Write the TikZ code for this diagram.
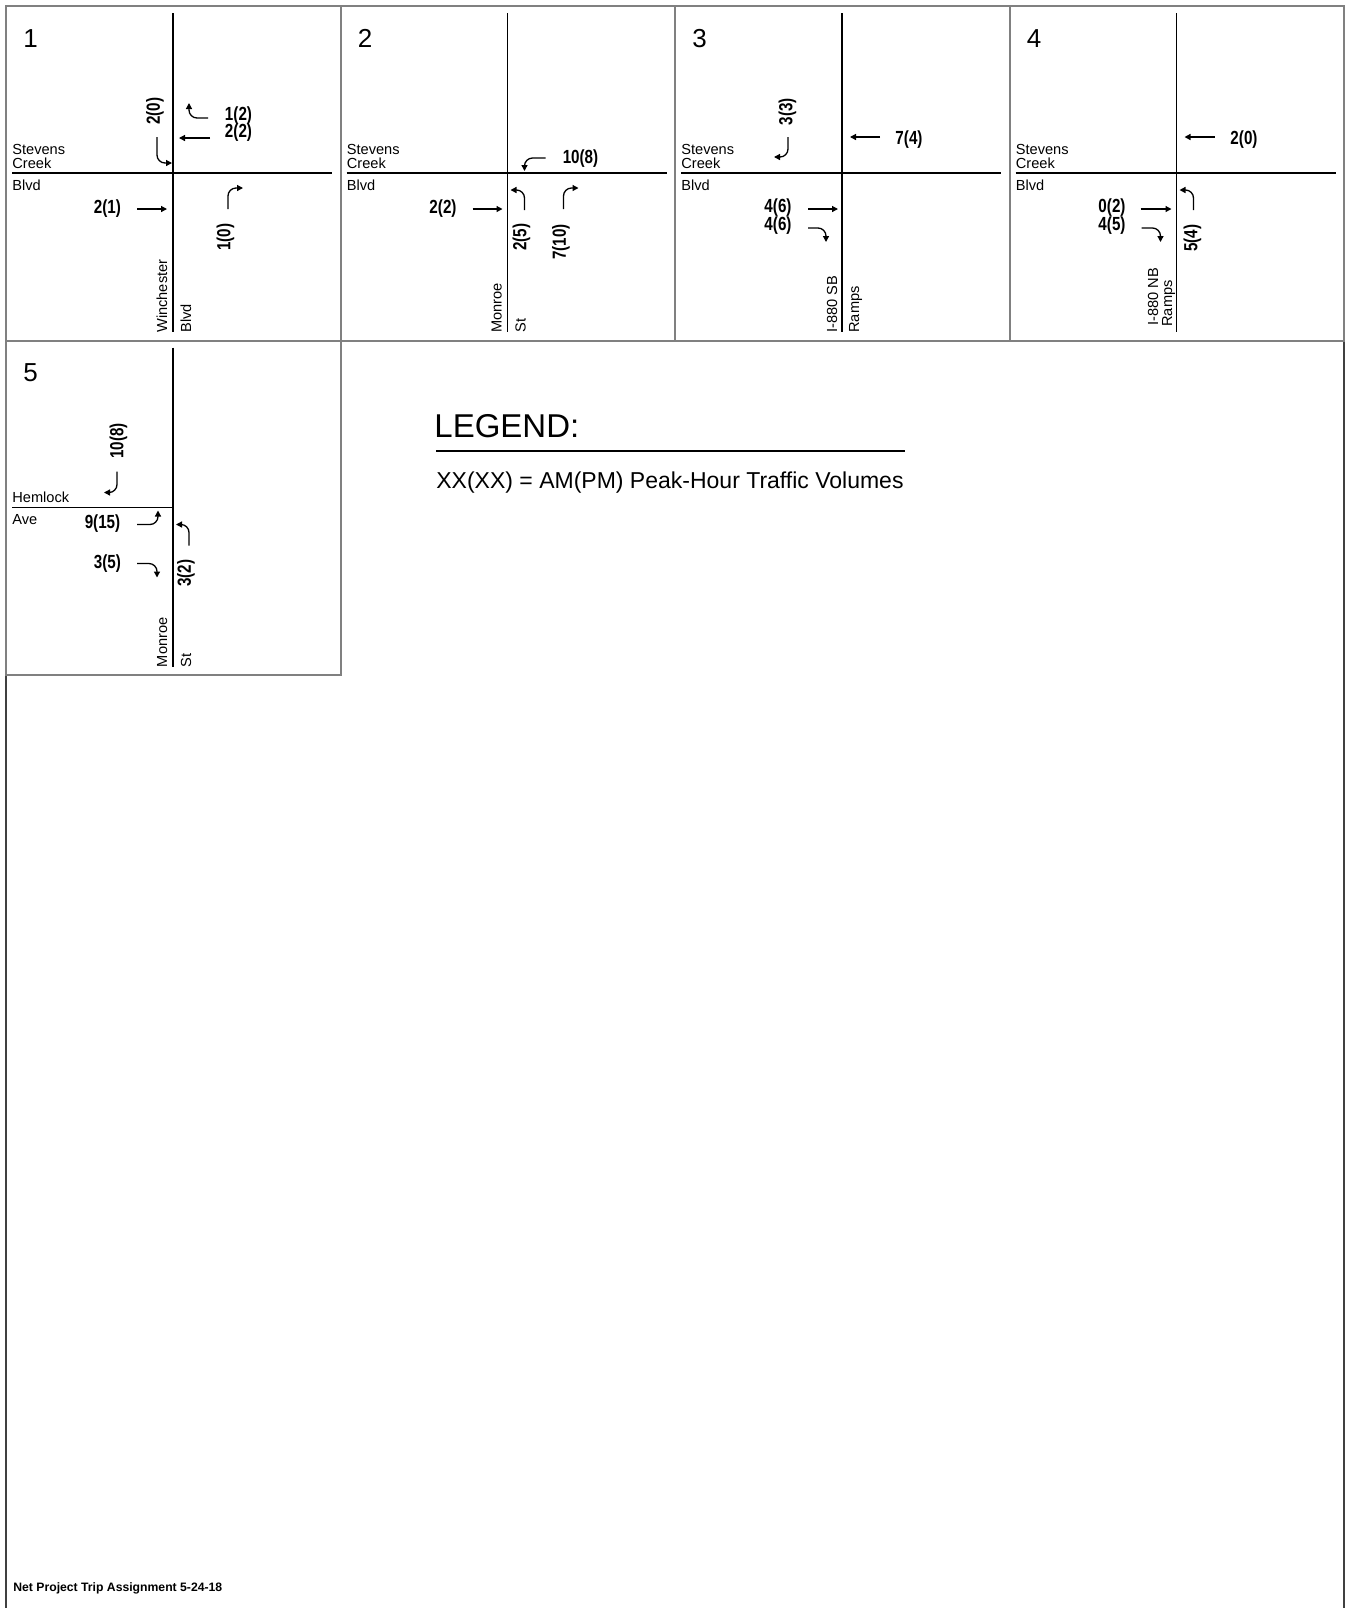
\documentclass[tikz,border=0pt]{standalone}
\usepackage{fontspec}
\setmainfont{Liberation Sans}
\newfontfamily\volfont[FakeStretch=0.8]{Liberation Sans Bold}
\usepackage{tikz}
\usetikzlibrary{arrows.meta}
\definecolor{framegray}{HTML}{808080}
\definecolor{edgegray}{HTML}{404040}

\begin{document}
\begin{tikzpicture}[
  x=0.5pt,y=-0.5pt,
  panel/.style={draw=framegray,line width=1pt},
  road/.style={line width=0.65pt},
  mov/.style={line width=0.65pt,-{Triangle[length=3pt,width=3pt]},rounded corners=4pt},
  pnum/.style={font=\fontsize{13}{15}\selectfont,inner sep=0pt,anchor=base west},
  sname/.style={font=\fontsize{7.3}{8}\selectfont,inner sep=0pt,anchor=base west},
  vol/.style={font=\volfont\fontsize{9.5}{10}\selectfont,inner sep=0pt},
]
\useasboundingbox (0,0) rectangle (1349,1608);
% Sheet frame
\draw[draw=edgegray,line width=1pt] (6,6) rectangle (1344,1614);

% Intersection 1: Stevens Creek / Winchester
\begin{scope}[shift={(6,6)}]
\draw[panel] (0,0) rectangle (334.5,334.5);
\node[pnum] (n1) at (17,41) {1};
\draw[road] (167,7) -- (167,326);
\draw[road] (6,167) -- (326,167);
\node[sname] (e1a) at (6,148) {Stevens};
\node[sname] (e1b) at (6,162) {Creek};
\node[sname] (w1) at (6,184) {Blvd};
\node[sname,rotate=90] (s1a) at (161,327) {Winchester};
\node[sname,rotate=90] (s1b) at (185,327) {Blvd};
% movements
\draw[mov] (202,112) -- (183,112) -- (183,97);
\node[vol] (v1a) at (232.5,109.5) {1(2)};
\draw[mov] (204,132) -- (173,132);
\node[vol] (v1b) at (232.5,126.5) {2(2)};
\draw[mov] (151,131) -- (151,157) -- (166,157);
\node[vol,rotate=90] (v1c) at (149,105) {2(0)};
\draw[mov] (131,203) -- (161,203);
\node[vol] (v1d) at (101.5,202.5) {2(1)};
\draw[mov] (222,203) -- (222,182) -- (237,182);
\node[vol,rotate=90] (v1e) at (219.5,231) {1(0)};
\end{scope}

% Intersection 2: Stevens Creek / Monroe
\begin{scope}[shift={(340.5,6)}]
\draw[panel] (0,0) rectangle (334.5,334.5);
\node[pnum] (n2) at (17,41) {2};
\draw[road] (167,7) -- (167,326);
\draw[road] (6,167) -- (326,167);
\node[sname] (e2a) at (6,148) {Stevens};
\node[sname] (e2b) at (6,162) {Creek};
\node[sname] (w2) at (6,184) {Blvd};
\node[sname,rotate=90] (s2a) at (161,327) {Monroe};
\node[sname,rotate=90] (s2b) at (185,327) {St};
% movements
\draw[mov] (205,152) -- (184,152) -- (184,165);
\node[vol] (v2a) at (240,153) {10(8)};
\draw[mov] (132,203) -- (162,203);
\node[vol] (v2b) at (102.5,202.5) {2(2)};
\draw[mov] (184,204) -- (184,184) -- (170,184);
\node[vol,rotate=90] (v2c) at (181,231) {2(5)};
\draw[mov] (223,203) -- (223,182) -- (238,182);
\node[vol,rotate=90] (v2d) at (220.5,236) {7(10)};
\end{scope}

% Intersection 3: Stevens Creek / I-880 SB Ramps
\begin{scope}[shift={(675,6)}]
\draw[panel] (0,0) rectangle (334.5,334.5);
\node[pnum] (n3) at (17,41) {3};
\draw[road] (167,7) -- (167,326);
\draw[road] (6,167) -- (326,167);
\node[sname] (e3a) at (6,148) {Stevens};
\node[sname] (e3b) at (6,162) {Creek};
\node[sname] (w3) at (6,184) {Blvd};
\node[sname,rotate=90] (s3a) at (162,327) {I-880 SB};
\node[sname,rotate=90] (s3b) at (184,327) {Ramps};
% movements
\draw[mov] (113,131) -- (113,151) -- (99,151);
\node[vol,rotate=90] (v3a) at (112.5,105.5) {3(3)};
\draw[mov] (205,131) -- (175,131);
\node[vol] (v3b) at (234,134) {7(4)};
\draw[mov] (133,203) -- (163,203);
\node[vol] (v3c) at (103,201.5) {4(6)};
\draw[mov] (133,222) -- (151,222) -- (151,236);
\node[vol] (v3d) at (103,219.5) {4(6)};
\end{scope}

% Intersection 4: Stevens Creek / I-880 NB Ramps
\begin{scope}[shift={(1009.5,6)}]
\draw[panel] (0,0) rectangle (334.5,334.5);
\node[pnum] (n4) at (17,41) {4};
\draw[road] (167,7) -- (167,326);
\draw[road] (6,167) -- (326,167);
\node[sname] (e4a) at (6,148) {Stevens};
\node[sname] (e4b) at (6,162) {Creek};
\node[sname] (w4) at (6,184) {Blvd};
\node[sname,rotate=90] (s4a) at (148.5,320) {I-880 NB};
\node[sname,rotate=90] (s4b) at (162.5,321) {Ramps};
% movements
\draw[mov] (205,131) -- (175,131);
\node[vol] (v4a) at (234.5,134) {2(0)};
\draw[mov] (131,203) -- (162,203);
\node[vol] (v4b) at (102.5,201.5) {0(2)};
\draw[mov] (132,222) -- (151,222) -- (151,236);
\node[vol] (v4c) at (102.5,219.5) {4(5)};
\draw[mov] (184,204) -- (184,184) -- (170,184);
\node[vol,rotate=90] (v4d) at (183,232) {5(4)};
\end{scope}

% Intersection 5: Hemlock / Monroe
\begin{scope}[shift={(6,340.5)}]
\draw[panel] (0,0) rectangle (334.5,334.5);
\node[pnum] (n5) at (17,41) {5};
\draw[road] (167,7) -- (167,326);
\draw[road] (6,167) -- (167,167);
\node[sname] (e5a) at (6,162) {Hemlock};
\node[sname] (w5) at (6,184) {Ave};
\node[sname,rotate=90] (s5a) at (161,327) {Monroe};
\node[sname,rotate=90] (s5b) at (185,327) {St};
% movements
\draw[mov] (111,131) -- (111,152) -- (98,152);
\node[vol,rotate=90] (v5a) at (112.5,100.5) {10(8)};
\draw[mov] (131,184) -- (152,184) -- (152,170);
\node[vol] (v5b) at (96.5,183.5) {9(15)};
\draw[mov] (131,223) -- (151,223) -- (151,237);
\node[vol] (v5c) at (101.5,223.5) {3(5)};
\draw[mov] (183,205) -- (183,184) -- (170,184);
\node[vol,rotate=90] (v5d) at (180,232.5) {3(2)};
\end{scope}

% Legend
\node[anchor=base west,inner sep=0pt,font=\fontsize{16.5}{18}\selectfont] (legend) at (434,437) {LEGEND:};
\draw[line width=0.6pt] (436,451) -- (905,451);
\node[anchor=base west,inner sep=0pt,font=\fontsize{11.5}{13}\selectfont] (key) at (436,488) {XX(XX) = AM(PM) Peak-Hour Traffic Volumes};

% Sheet title
\node[anchor=base west,inner sep=0pt,font=\bfseries\fontsize{6.1}{7}\selectfont] (title) at (13,1591) {Net Project Trip Assignment 5-24-18};
\end{tikzpicture}
\end{document}
